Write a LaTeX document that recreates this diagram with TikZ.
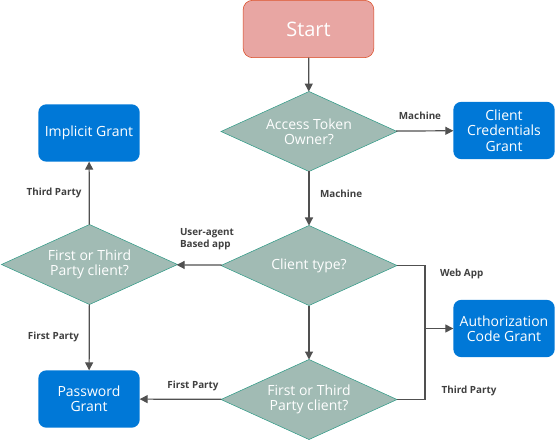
\documentclass[tikz,border=0pt]{standalone}
\usepackage{fontspec}
\setmainfont{Open Sans}
\usepackage{tikz}
\usetikzlibrary{shapes, arrows.meta, positioning, calc}

\definecolor{startfill}{HTML}{E8A6A3}
\definecolor{startline}{HTML}{D9471F}
\definecolor{decfill}{HTML}{A1BBB4}
\definecolor{decline}{HTML}{2F9A86}
\definecolor{grantblue}{HTML}{0078D7}
\definecolor{linegray}{HTML}{505050}
\definecolor{labelgray}{HTML}{404040}

\tikzset{
    startbox/.style={draw=startline, fill=startfill, rounded corners=7pt, minimum width=98pt, minimum height=43pt, text=white, font=\fontsize{15}{18}\selectfont},
    decision/.style={diamond, aspect=2.18, draw=decline, fill=decfill, inner sep=0pt, minimum width=132pt, minimum height=60pt, text=white, align=center, font=\fontsize{10.5}{11.5}\selectfont},
    grant/.style={fill=grantblue, rounded corners=6pt, minimum width=76pt, minimum height=43pt, text=white, align=center, inner sep=1pt, font=\fontsize{10.5}{11.5}\selectfont},
    flowlabel/.style={text=labelgray, font=\fontsize{7.4}{9}\selectfont\bfseries, inner sep=0pt},
    flow/.style={draw=linegray, line width=0.9pt, -{Triangle[length=6pt,width=6pt]}}
}

\begin{document}
\begin{tikzpicture}[x=0.75pt, y=-0.75pt, every node/.style={outer sep=0pt}]
    \useasboundingbox (0,0) rectangle (555,441);

    % Start and first question
    \node[startbox] (start) at (308.5,29) {Start};
    \node[decision] (owner) at (309,131.5) {Access Token\\Owner?};
    \node[grant] (ccg) at (504,130.5) {Client\\Credentials\\Grant};

    % Client type
    \node[decision] (ctype) at (309,265.5) {Client type?};
    \node[decision] (leftq) at (89.5,264.5) {First or Third\\Party client?};
    \node[decision] (botq) at (309,399.5) {First or Third\\Party client?};

    % Grants
    \node[grant] (implicit) at (89,133) {Implicit Grant};
    \node[grant] (password) at (89,399) {Password\\Grant};
    \node[grant] (authcode) at (504,328.5) {Authorization\\Code Grant};
    \coordinate (join) at (425,328.5);

    % Connectors
    \draw[flow] (start) -- (owner);
    \draw[flow] (owner) -- (ccg);
    \draw[flow] (owner) -- (ctype);
    \draw[flow] (ctype) -- (leftq);
    \draw[flow] (leftq) -- (implicit);
    \draw[flow] (leftq) -- (password);
    \draw[flow] (ctype) -- (botq);
    \draw[flow] (botq) -- (password);
    \draw[line width=0.9pt, draw=linegray] (ctype.east) -| (join);
    \draw[line width=0.9pt, draw=linegray] (botq.east) -| (join);
    \draw[flow] (join) -- (authcode);

    % Labels
    \node[flowlabel] (lmach1) at (420,116) {Machine};
    \node[flowlabel, anchor=west] (lmach2) at (320,194) {Machine};
    \node[flowlabel] (lthird1) at (54,193) {Third Party};
    \node[flowlabel, anchor=west, align=left] (luser) at (180,239) {User-agent\\Based app};
    \node[flowlabel, anchor=west] (lweb) at (440,274) {Web App};
    \node[flowlabel] (lfirst1) at (53.5,337) {First Party};
    \node[flowlabel] (lfirst2) at (193,386) {First Party};
    \node[flowlabel] (lthird2) at (469,391) {Third Party};
\end{tikzpicture}
\end{document}
